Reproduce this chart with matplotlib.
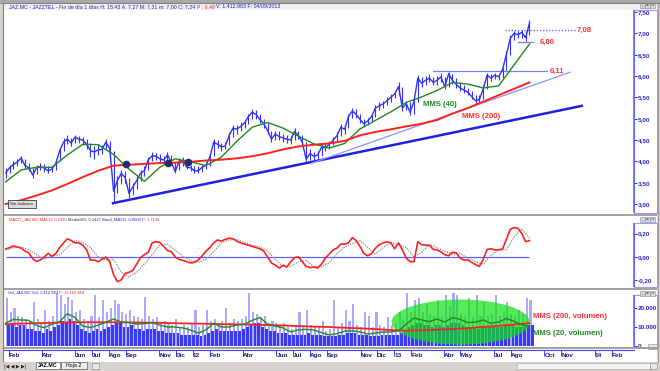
#!/usr/bin/env python3
"""JAZ.MC (Jazztel) daily chart: price with MMS(40)/MMS(200), MACD and volume."""

import matplotlib
matplotlib.use("Agg")
import matplotlib.pyplot as plt
import matplotlib.dates as mdates
from matplotlib.patches import Rectangle, Ellipse
import pandas as pd

W, H = 660, 371
FONT = ["Liberation Sans", "DejaVu Sans"]
plt.rcParams["font.family"] = FONT

# ---- values (weekly samples) ----
week_start = "2011-01-26"
close = [3.73, 3.85, 3.93, 3.98, 4.08, 3.90, 3.85, 3.68, 3.85, 3.88,
         3.84, 3.78, 3.82, 3.95, 4.25, 4.45, 4.52, 4.43, 4.57, 4.52,
         4.50, 4.40, 4.25, 4.22, 4.27, 4.28, 4.45, 4.30, 3.30, 3.55,
         3.72, 3.62, 3.25, 3.40, 3.55, 3.72, 3.78, 4.03, 4.13, 4.12,
         4.06, 4.03, 4.15, 3.98, 3.76, 4.00, 4.02, 3.86, 3.85, 3.78,
         3.78, 3.86, 3.91, 4.10, 4.45, 4.40, 4.34, 4.36, 4.60, 4.78,
         4.75, 4.82, 4.90, 5.05, 5.15, 5.10, 4.98, 4.88, 4.72, 4.52,
         4.64, 4.58, 4.55, 4.52, 4.50, 4.70, 4.60, 4.45, 4.05, 4.18,
         4.12, 4.15, 4.33, 4.32, 4.40, 4.50, 4.60, 4.80, 4.75, 5.05,
         5.18, 5.10, 4.98, 4.88, 4.95, 5.05, 5.25, 5.30, 5.35, 5.42,
         5.50, 5.58, 5.75, 5.25, 5.35, 5.15, 5.40, 5.95, 5.83, 5.90,
         5.95, 5.85, 5.90, 5.98, 5.75, 6.05, 5.90, 5.80, 5.72, 5.67,
         5.62, 5.52, 5.42, 5.45, 5.70, 6.02, 5.95, 6.02, 5.98, 6.15,
         6.50, 6.88, 7.00, 6.97, 7.02, 6.90, 7.24]
week_high = [3.85, 3.92, 4.00, 4.05, 4.12, 4.05, 3.95, 3.85, 3.92, 3.95,
             3.94, 3.88, 3.90, 4.05, 4.32, 4.55, 4.62, 4.55, 4.62, 4.60,
             4.58, 4.52, 4.42, 4.35, 4.40, 4.38, 4.52, 4.48, 4.25, 3.65,
             3.80, 3.78, 3.60, 3.50, 3.65, 3.80, 3.88, 4.10, 4.22, 4.20,
             4.18, 4.12, 4.22, 4.15, 3.98, 4.08, 4.10, 4.00, 3.92, 3.90,
             3.88, 3.92, 3.98, 4.18, 4.52, 4.50, 4.42, 4.45, 4.68, 4.85,
             4.85, 4.92, 4.98, 5.12, 5.22, 5.20, 5.12, 5.00, 4.90, 4.72,
             4.72, 4.70, 4.65, 4.62, 4.60, 4.78, 4.72, 4.62, 4.45, 4.28,
             4.22, 4.25, 4.40, 4.42, 4.48, 4.58, 4.68, 4.88, 4.85, 5.12,
             5.25, 5.22, 5.12, 5.00, 5.02, 5.12, 5.32, 5.38, 5.42, 5.50,
             5.58, 5.65, 5.85, 5.75, 5.42, 5.38, 5.48, 6.02, 5.98, 6.00,
             6.05, 5.98, 6.00, 6.08, 5.98, 6.10, 6.05, 5.95, 5.85, 5.78,
             5.72, 5.65, 5.55, 5.55, 5.78, 6.08, 6.05, 6.08, 6.05, 6.22,
             6.58, 6.95, 7.05, 7.05, 7.08, 7.05, 7.31]
week_low = [3.62, 3.72, 3.82, 3.88, 3.95, 3.85, 3.78, 3.62, 3.70, 3.80,
            3.76, 3.72, 3.74, 3.80, 4.00, 4.25, 4.40, 4.35, 4.42, 4.42,
            4.38, 4.30, 4.10, 4.05, 4.15, 4.18, 4.28, 4.15, 3.02, 3.25,
            3.48, 3.50, 3.14, 3.20, 3.35, 3.55, 3.65, 3.80, 4.00, 4.02,
            3.98, 3.95, 4.00, 3.92, 3.72, 3.80, 3.90, 3.82, 3.78, 3.72,
            3.72, 3.75, 3.82, 3.90, 4.12, 4.32, 4.25, 4.28, 4.38, 4.58,
            4.65, 4.70, 4.78, 4.88, 5.00, 5.00, 4.90, 4.78, 4.65, 4.45,
            4.50, 4.50, 4.45, 4.42, 4.40, 4.50, 4.52, 4.38, 4.00, 4.02,
            4.04, 4.06, 4.12, 4.25, 4.28, 4.38, 4.48, 4.60, 4.65, 4.78,
            5.02, 5.02, 4.90, 4.80, 4.85, 4.92, 5.05, 5.20, 5.25, 5.32,
            5.40, 5.48, 5.55, 5.18, 5.20, 5.08, 5.12, 5.40, 5.75, 5.80,
            5.85, 5.78, 5.80, 5.85, 5.70, 5.75, 5.82, 5.72, 5.65, 5.60,
            5.55, 5.45, 5.35, 5.38, 5.45, 5.70, 5.88, 5.92, 5.90, 5.95,
            6.15, 6.50, 6.85, 6.88, 6.90, 6.82, 6.95]

macd = [0.068, 0.08, 0.094, 0.085, 0.075, 0.05, 0.035, -0.015, -0.038, -0.025,
        0.0, 0.03, 0.005, 0.03, 0.08, 0.12, 0.155, 0.14, 0.12, 0.12,
        0.10, 0.06, -0.026, -0.026, -0.04, -0.02, 0.0, -0.04, -0.15, -0.21,
        -0.195, -0.14, -0.13, -0.115, -0.06, -0.005, 0.02, 0.04, 0.12, 0.13,
        0.125, 0.09, 0.055, 0.045, 0.0, -0.02, -0.03, -0.04, -0.05, -0.045,
        -0.025, 0.01, 0.05, 0.08, 0.12, 0.145, 0.135, 0.15, 0.16, 0.155,
        0.135, 0.12, 0.11, 0.10, 0.09, 0.08, 0.07, 0.05, 0.0, -0.05,
        -0.07, -0.094, -0.07, -0.085, -0.04, -0.005, 0.0, -0.04, -0.08, -0.09,
        -0.085, -0.094, -0.06, -0.01, 0.025, 0.06, 0.075, 0.11, 0.11, 0.12,
        0.165, 0.14, 0.09, 0.03, 0.01, 0.03, 0.075, 0.105, 0.12, 0.13,
        0.12, 0.07, 0.12, 0.06, -0.01, -0.04, -0.04, 0.13, 0.105, 0.10,
        0.10, 0.065, 0.06, 0.045, 0.02, 0.01, 0.04, 0.035, -0.01, -0.026,
        -0.026, -0.045, -0.065, -0.08, -0.02, 0.065, 0.07, 0.06, 0.06, 0.068,
        0.15, 0.235, 0.25, 0.245, 0.20, 0.13, 0.14]

# volume in thousands: dark (typical) and light (peak) bars per week
vol_lo = [11, 12, 10, 11, 11, 9, 9, 8, 8, 7, 9, 8, 10, 11, 13, 12, 14, 13, 11, 9,
          8, 7, 8, 9, 8, 9, 10, 11, 12, 12, 10, 10, 11, 9, 9, 8, 9, 9, 9, 8,
          8, 7, 7, 7, 7, 6, 6, 6, 6, 6, 5, 6, 7, 8, 9, 8, 8, 8, 8, 8,
          8, 9, 10, 11, 12, 12, 10, 9, 8, 8, 7, 7, 7, 6, 6, 6, 6, 6, 7, 6,
          6, 6, 5, 5, 5, 5, 6, 6, 7, 7, 7, 6, 6, 6, 5, 5, 5, 6, 6, 6,
          6, 6, 7, 8, 10, 11, 12, 12, 11, 11, 10, 11, 11, 10, 11, 12, 12, 12, 11, 10,
          10, 10, 9, 10, 10, 10, 10, 10, 10, 11, 11, 11, 10, 10, 10, 11, 11]
vol_hi = [25, 18, 20, 16, 15, 14, 13, 23, 14, 12, 19, 13, 16, 28, 27, 22, 26, 24, 18, 19,
          14, 13, 16, 27, 15, 24, 18, 20, 24, 22, 18, 17, 19, 16, 15, 14, 26, 16, 14, 15,
          12, 13, 12, 11, 14, 10, 11, 10, 12, 19, 10, 11, 19, 13, 14, 12, 13, 20, 12, 14,
          13, 14, 16, 28, 18, 17, 15, 16, 12, 13, 12, 11, 12, 10, 9, 11, 18, 10, 19, 11,
          10, 10, 13, 8, 9, 24, 10, 12, 19, 13, 22, 11, 10, 18, 16, 10, 18, 11, 10, 15,
          11, 12, 18, 14, 28, 18, 24, 25, 18, 22, 17, 16, 24, 16, 27, 21, 28, 27, 17, 16,
          25, 15, 27, 16, 23, 16, 17, 27, 16, 18, 23, 17, 16, 19, 17, 25, 24]

# every 4th week
mms40 = [3.52, 3.80, 3.86, 3.86, 4.15, 4.40, 4.39, 4.16, 3.82, 3.53,
         3.86, 4.06, 3.99, 3.90, 4.10, 4.47, 4.80, 4.91, 4.78, 4.59,
         4.41, 4.31, 4.42, 4.76, 4.96, 5.16, 5.38, 5.51, 5.66, 5.85,
         5.81, 5.72, 5.77, 6.26, 6.75]
mms200 = [3.00, 3.09, 3.20, 3.32, 3.47, 3.63, 3.78, 3.90, 3.92, 3.94,
          3.96, 3.97, 3.99, 4.02, 4.04, 4.07, 4.12, 4.19, 4.28, 4.35,
          4.39, 4.42, 4.48, 4.61, 4.69, 4.75, 4.82, 4.88, 4.97, 5.12,
          5.25, 5.40, 5.55, 5.70, 5.85]
vol_mms200 = [11.5, 11.8, 12.0, 12.2, 12.4, 12.5, 12.5, 12.5, 12.4, 12.3,
              12.2, 12.0, 11.8, 11.7, 11.5, 11.4, 11.3, 11.0, 10.8, 10.5,
              10.2, 10.0, 9.6, 9.3, 8.9, 8.4, 8.1, 8.3, 8.6, 8.9,
              9.4, 10.0, 10.6, 11.3, 12.0]

# every 2nd week
signal = [0.06, 0.08, 0.085, 0.06, 0.02, -0.02, 0.01, 0.02, 0.08, 0.14,
          0.125, 0.08, 0.0, -0.025, -0.02, -0.13, -0.17, -0.13, -0.06, 0.02,
          0.10, 0.11, 0.06, 0.005, -0.03, -0.045, -0.02, 0.045, 0.12, 0.145,
          0.15, 0.125, 0.10, 0.085, 0.05, -0.02, -0.08, -0.08, -0.04, -0.03,
          -0.08, -0.08, -0.05, 0.03, 0.085, 0.115, 0.14, 0.08, 0.025, 0.08,
          0.12, 0.105, 0.08, 0.00, 0.04, 0.105, 0.08, 0.05, 0.025, 0.03,
          -0.01, -0.04, -0.06, 0.01, 0.065, 0.065, 0.17, 0.24, 0.16]
vol_mms20 = [12.1, 14.0, 13.7, 13.5, 10.8, 9.6, 11.5, 12.8, 17.0, 15.0,
             10.5, 9.7, 11.0, 12.5, 14.2, 12.6, 12.4, 11.5, 11.8, 12.3,
             11.0, 10.0, 10.0, 9.5, 8.4, 6.8, 8.5, 12.0, 10.0, 10.0,
             11.0, 11.5, 13.5, 15.0, 11.5, 10.5, 9.5, 7.4, 8.5, 8.8,
             8.4, 7.0, 5.8, 6.5, 7.8, 8.0, 7.4, 6.3, 6.8, 7.4,
             7.4, 8.0, 11.5, 14.7, 13.7, 12.8, 14.2, 12.6, 15.0, 14.0,
             12.3, 12.6, 13.7, 12.0, 12.6, 14.5, 13.0, 11.2, 10.0]

cross_dates = ["2011-09-01", "2011-11-17", "2011-12-23"]
cross_vals = [3.93, 3.96, 3.98]

support_dates, support_vals = ["2011-08-09", "2013-12-08"], [3.02, 5.30]
inner_dates, inner_vals = ["2012-08-05", "2013-11-17"], [3.96, 6.09]
res611_dates, res611 = ["2013-03-13", "2013-10-06"], 6.11
sup680_dates, sup680 = ["2013-08-14", "2013-09-10"], 6.80
res708_dates, res708 = ["2013-07-21", "2013-11-26"], 7.08

price_ticks = [3.0, 3.5, 4.0, 4.5, 5.0, 5.5, 6.0, 6.5, 7.0, 7.5]
macd_ticks = [-0.2, 0.0, 0.2]
vol_ticks = [0, 10, 20]
month_ticks = ["2011-02-01", "2011-04-01", "2011-06-01", "2011-07-01", "2011-08-01",
               "2011-09-01", "2011-11-01", "2011-12-01", "2012-01-01", "2012-02-01",
               "2012-04-01", "2012-06-01", "2012-07-01", "2012-08-01", "2012-09-01",
               "2012-11-01", "2012-12-01", "2013-01-01", "2013-02-01", "2013-04-01",
               "2013-05-01", "2013-07-01", "2013-08-01", "2013-10-01", "2013-11-01",
               "2014-01-01", "2014-02-01"]
month_labels = ["Feb", "Abr", "Jun", "Jul", "Ago", "Sep", "Nov", "Dic", "12", "Feb",
                "Abr", "Jun", "Jul", "Ago", "Sep", "Nov", "Dic", "13", "Feb", "Abr",
                "May", "Jul", "Ago", "Oct", "Nov", "14", "Feb"]

week_dates = pd.date_range(week_start, periods=len(close), freq="7D")
ma_dates = week_dates[::4]
half_dates = week_dates[::2]
X_LEFT, X_RIGHT = pd.Timestamp("2011-01-21"), pd.Timestamp("2014-03-13")

BLUE = "#3030ff"
AXBLUE = "#2a2ad0"
RED = "#ff2020"
GREEN = "#1f8a1f"
LBL_RED = "#ff3030"


def rect(x0, y0, x1, y1):
    return [x0 / W, 1 - y1 / H, (x1 - x0) / W, (y1 - y0) / H]


fig = plt.figure(figsize=(W / 100, H / 100), dpi=100, facecolor="#d6d3ce")


def overlay(z):
    a = fig.add_axes([0, 0, 1, 1], zorder=z)
    a.set_xlim(0, W)
    a.set_ylim(H, 0)
    a.set_axis_off()
    a.patch.set_alpha(0)
    return a


bg = overlay(-20)
fg = overlay(20)
bg.add_patch(Rectangle((3, 10), 654, 352, facecolor="white", edgecolor="none"))
bg.add_patch(Rectangle((0, 0), W, 3, facecolor="#a9a9a9", edgecolor="none"))
bg.add_patch(Rectangle((3, 3), 654, 7, facecolor="#f2f2f2", edgecolor="none"))
bg.add_patch(Rectangle((0, 362), W, 9, facecolor="#d6d3ce", edgecolor="none"))


def panel(y0, y1):
    a = fig.add_axes(rect(3, y0, 634, y1))
    a.set_xlim(X_LEFT, X_RIGHT)
    for s in a.spines.values():
        s.set_visible(False)
    a.tick_params(axis="x", bottom=False, labelbottom=False)
    a.yaxis.tick_right()
    a.tick_params(axis="y", right=True, left=False, direction="out", length=2,
                  width=0.7, colors=AXBLUE, labelsize=4.6, pad=0.6)
    return a


# ---- price panel ----
ax_p = panel(10, 214)
ax_p.set_ylim(2.766, 7.547)
ax_p.vlines(week_dates, week_low, week_high, color=BLUE, lw=0.8, zorder=3)
ax_p.plot(week_dates, close, color=BLUE, lw=1.0, zorder=3)
ax_p.plot(ma_dates, mms40, color=GREEN, lw=1.0, zorder=4)
ax_p.plot(ma_dates, mms200, color=RED, lw=1.4, zorder=4)
ax_p.plot(pd.to_datetime(support_dates), support_vals, color="#2020e0", lw=1.8, zorder=2)
ax_p.plot(pd.to_datetime(inner_dates), inner_vals, color="#9090ff", lw=0.9, zorder=2)
ax_p.plot(pd.to_datetime(res611_dates), [res611] * 2, color="#7b7bff", lw=0.9)
ax_p.plot(pd.to_datetime(sup680_dates), [sup680] * 2, color="#7b7bff", lw=0.9)
ax_p.plot(pd.to_datetime(res708_dates), [res708] * 2, color="#5050ff", lw=0.9, ls=(0, (1, 1.5)))
ax_p.scatter(pd.to_datetime(cross_dates), cross_vals, s=20, color="#1c2c6c", zorder=6)
ax_p.set_yticks(price_ticks, [f"{v:.2f}".replace(".", ",") for v in price_ticks],
                fontweight="bold")

lbl = dict(fontsize=5.6, fontweight="bold", va="center", ha="left")
ax_p.text(pd.Timestamp("2013-11-29"), res708, "7,08", color=LBL_RED, **lbl)
ax_p.text(pd.Timestamp("2013-09-23"), sup680, "6,80", color=LBL_RED, **lbl)
ax_p.text(pd.Timestamp("2013-10-11"), res611, "6,11", color=LBL_RED, **lbl)
ax_p.text(pd.Timestamp("2013-02-22"), 5.34, "MMS (40)", color=GREEN, **lbl)
ax_p.text(pd.Timestamp("2013-05-04"), 5.04, "MMS (200)", color=LBL_RED, **lbl)

# ---- MACD panel ----
ax_m = panel(216, 288)
ax_m.set_ylim(-0.264, 0.349)
ax_m.hlines(0, week_dates[0], week_dates[-1], color="#6060ff", lw=0.9)
ax_m.plot(half_dates, signal, color="#888888", lw=0.9, ls=(0, (1, 1)))
ax_m.plot(week_dates, macd, color=RED, lw=1.2)
ax_m.set_yticks(macd_ticks, [f"{v:.2f}".replace(".", ",") for v in macd_ticks],
                fontweight="bold")

# ---- volume panel ----
ax_v = panel(289, 347)
ax_v.set_ylim(-0.53, 30.0)
ax_v.bar(week_dates, vol_hi, width=3.8, align="edge", color="#a9a9ff", lw=0)
ax_v.bar(week_dates + pd.Timedelta(days=2.5), vol_lo, width=5.0, align="edge",
         color="#3a3af2", lw=0)
ax_v.add_patch(Ellipse((mdates.date2num(pd.Timestamp("2013-05-02")), 12.6), 251, 23.7,
                       facecolor="#10e010", alpha=0.7, lw=0, zorder=1.5))
ax_v.plot(ma_dates, vol_mms200, color=RED, lw=1.3, zorder=3)
ax_v.plot(half_dates, vol_mms20, color=GREEN, lw=1.0, zorder=3)
ax_v.set_yticks(vol_ticks, ["0", "10.000", "20.000"], fontweight="bold")
ax_v.text(pd.Timestamp("2013-09-10"), 15.3, "MMS (200, volumen)", color=LBL_RED, **lbl)
ax_v.text(pd.Timestamp("2013-09-10"), 6.8, "MMS (20, volumen)", color=GREEN, **lbl)

# ---- date axis ----
ax_x = fig.add_axes(rect(3, 350, 634, 353))
ax_x.set_xlim(X_LEFT, X_RIGHT)
ax_x.set_ylim(0, 1)
ax_x.patch.set_alpha(0)
for name, s in ax_x.spines.items():
    s.set_visible(name == "top")
ax_x.spines["top"].set_color("#4040ff")
ax_x.set_yticks([])
ax_x.set_xticks(pd.to_datetime(month_ticks), month_labels, fontsize=4.6,
                fontweight="bold", color="#1a1a80", ha="left")
ax_x.tick_params(axis="x", top=True, bottom=False, labeltop=False, labelbottom=True,
                 direction="in", length=4, width=0.7, color="#4040ff", pad=0.3)

# ---- frames, strips, headers ----
for y0, y1 in [(10, 213), (223, 287), (295, 348)]:
    fg.add_patch(Rectangle((634, y0), 23, y1 - y0, fill=False, edgecolor="#9a9aff", lw=0.8))
    fg.vlines(634, y0, y1, color="#5a5aff", lw=1.1)
for y in (214.5, 288.5, 347.5):
    fg.hlines(y, 3, 657, color="#a0a0a0", lw=1.4)
fg.vlines(2.5, 3, 362, color="#808080", lw=0.8)
fg.vlines(657.5, 3, 362, color="#a0a0a0", lw=0.8)
fg.hlines(3, 0, W, color="#808080", lw=0.8)

for yb in (3, 217, 291):
    for k, g in enumerate(["_", "▫", "×"]):
        fg.add_patch(Rectangle((640 + 5 * k, yb), 4.5, 4.5, facecolor="#d8d8d8",
                               edgecolor="#8a8a8a", lw=0.4))
        fg.text(642.2 + 5 * k, yb + 2.4, g, fontsize=3, ha="center", va="center",
                family="DejaVu Sans", color="#303030")
fg.add_patch(Rectangle((648, 344), 9, 5, facecolor="#e8e8e8", edgecolor="#8a8a8a", lw=0.4))

fg.add_patch(Rectangle((8, 200), 28, 8, facecolor="#dcdcdc", edgecolor="#404040", lw=0.6))
fg.text(22, 204, "Sin órdenes", fontsize=3.2, ha="center", va="center", color="#202020")


def rainbow(x, y, parts, size, weight="normal"):
    t = fg.annotate(parts[0][0], xy=(x, y), xycoords="data", color=parts[0][1],
                    fontsize=size, va="center", ha="left", fontweight=weight)
    for s, c in parts[1:]:
        t = fg.annotate(s, xy=(1, 0.5), xycoords=t, color=c, fontsize=size,
                        va="center", ha="left", fontweight=weight)


rainbow(9, 6.5, [("JAZ.MC - JAZZTEL - Fin de día 1 días H: 15:43 A: 7,27 M: 7,31 m: 7,00 "
                  "C: 7,24 ", "#2020c0"), ("P : 6,48 ", "#ff2020"),
                 ("V: 1.412.983 F: 04/09/2013", "#2020c0")], 3.8)
rainbow(9, 219.5, [("MACD_JAZ.MC MACD: 0,1365 ", "#ff2020"), ("MediaSIG: 0,1427 ", "#333333"),
                   ("Band_MACD: 0,0000 ", "#2020e0"), ("P: 1,7136", "#ff2020")], 3.0)
rainbow(8, 292.5, [("Vol_JAZ.MC Vol: 1.412.983 ", "#2020e0"), ("P: 15.162.854", "#ff2020")], 3.0)

# ---- sheet tabs ----
fg.text(4, 366.5, "|◀ ◀ ▶ ▶|", fontsize=3.4, family="DejaVu Sans", va="center",
        color="#202020")
fg.add_patch(Rectangle((36, 362), 24, 7, facecolor="white", edgecolor="#606060", lw=0.5))
fg.text(48, 365.5, "JAZ.MC", fontsize=3.8, fontweight="bold", ha="center", va="center")
fg.add_patch(Rectangle((61, 362), 26, 7, facecolor="#ececec", edgecolor="#606060", lw=0.5))
fg.text(74, 365.5, "Hoja 2", fontsize=3.8, ha="center", va="center")
fg.add_patch(Rectangle((92, 363), 7, 6, facecolor="#e8e8e8", edgecolor="#808080", lw=0.4))
fg.add_patch(Rectangle((517, 363), 133, 6, facecolor="#f4f4f4", edgecolor="#a0a0a0", lw=0.4))
fg.add_patch(Rectangle((650, 363), 7, 6, facecolor="#e8e8e8", edgecolor="#808080", lw=0.4))

fig.savefig("out.png", dpi=100, facecolor=fig.get_facecolor())
